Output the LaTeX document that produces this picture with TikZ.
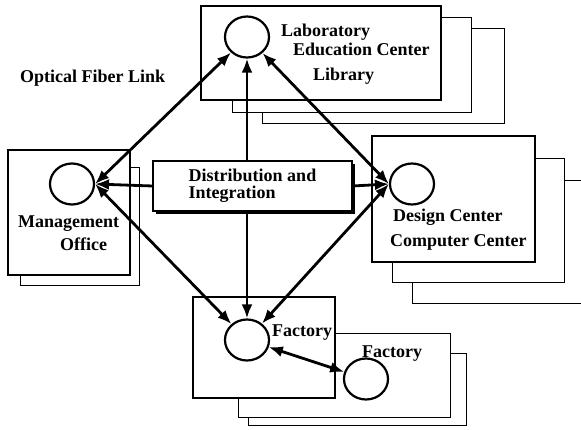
\documentclass[tikz,border=0pt]{standalone}
\usepackage{fontspec}
\setmainfont{Liberation Serif}
\usetikzlibrary{arrows.meta,shapes.geometric,shadows}

\begin{document}
\begin{tikzpicture}[x=1pt,y=-1pt,
      every node/.append style={font=\fontsize{18}{17}\selectfont\bfseries},
      fiber/.style={line width=2.8pt,{Latex[length=14pt,width=11pt]}-{Latex[length=14pt,width=11pt]}},
      feed/.style={line width=2.8pt,-{Latex[length=14pt,width=11pt]}},
      site/.style={draw,line width=2.2pt,ellipse,minimum width=44pt,minimum height=41pt,inner sep=0pt},
      sitename/.style={anchor=base west,inner sep=0pt}]
    \tikzstyle{front} = [draw,fill=white,line width=1.4pt]
    \tikzstyle{back} = [draw,fill=white,line width=0.9pt]
    \clip (0,0) rectangle (581,430);
    \path[back] (262,28) rectangle (504,123);
    \path[back] (232,17) rectangle (471,112);
    \path[front] (201,6) rectangle (441,100);
    \path[back] (20,167) rectangle (139,285);
    \path[front] (8,150) rectangle (130,275);
    \path[back] (412,180) rectangle (600,303);
    \path[back] (392,158) rectangle (564,282);
    \path[front] (372,136) rectangle (535,262);
    \path[back] (248,353) rectangle (466,425);
    \path[back] (238,333) rectangle (450,417);
    \path[front] (193,297) rectangle (335,398);
    \node (lab) [site] at (247,37) {};
    \node (mgmt) [site] at (72,184) {};
    \node (design) [site] at (412,184) {};
    \node (fac) [site] at (247,340) {};
    \node (fac2) [site] at (366,379) {};
    \node (labA) [sitename] at (281,37) {Laboratory};
    \node (labB) [sitename] at (293,56) {Education Center};
    \node (labC) [sitename] at (313,81) {Library};
    \node (mgmtA) [sitename] at (18,228) {Management};
    \node (mgmtB) [sitename] at (60,251) {Office};
    \node (desA) [sitename] at (393,222) {Design Center};
    \node (desB) [sitename] at (390,247) {Computer Center};
    \node (facA) [sitename] at (272,337) {Factory};
    \node (fac2A) [sitename] at (362,357) {Factory};
    \node (optic) [sitename] at (20,83) {Optical Fiber Link};
    \node (dist) [draw,fill=white,line width=1.4pt,minimum width=199pt,minimum height=50pt,align=left,
      drop shadow={shadow xshift=2.5pt,shadow yshift=-3pt,fill=black,opacity=1}] at (252.5,186)
      {Distribution and\\Integration};
    \draw[fiber] (lab) -- (mgmt.east);
    \draw[fiber] (lab) -- (design.west);
    \draw[fiber] (mgmt.east) -- (fac);
    \draw[fiber] (design.west) -- (fac);
    \draw[fiber] (fac) -- (fac2);
    \draw[feed] (dist.north -| lab) -- (lab.south);
    \draw[feed] (dist.south -| fac) -- (fac.north);
    \draw[feed] (dist.west) -- (mgmt.east);
    \draw[feed] (dist.east) -- (design.west);
\end{tikzpicture}
\end{document}
